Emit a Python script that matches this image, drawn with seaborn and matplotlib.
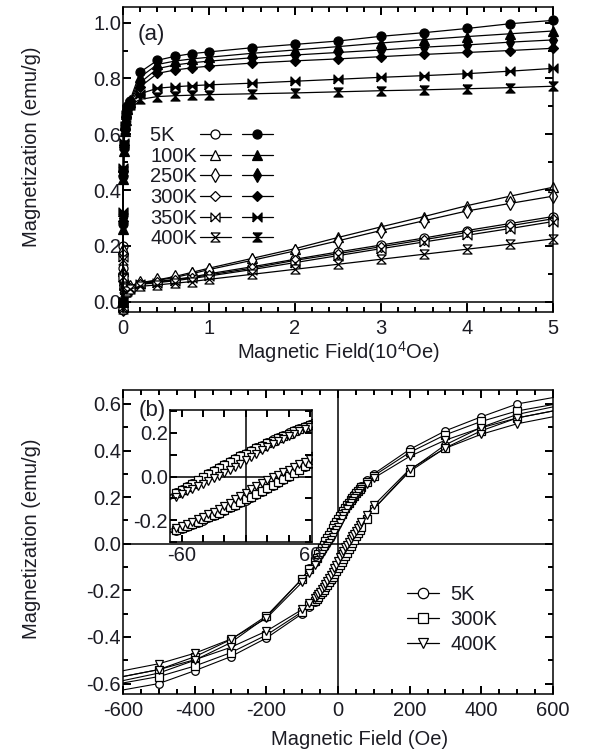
"""Magnetization vs field at several temperatures, and low-field hysteresis loops."""

import matplotlib

matplotlib.use("Agg")
import matplotlib.pyplot as plt
import seaborn as sns
from matplotlib.legend_handler import HandlerTuple
from matplotlib.lines import Line2D
from matplotlib.ticker import FixedLocator, MultipleLocator, NullLocator

# ---- panel (a): M(H) up to 5x10^4 Oe, open = sample 1, filled = sample 2 ----
TEMPS_A = ["5K", "100K", "250K", "300K", "350K", "400K"]

FIELD_A = [0.0, 0.0, 0.005, 0.01, 0.02, 0.03, 0.05, 0.08,
           0.2, 0.4, 0.6, 0.8, 1.0, 1.5, 2.0, 2.5, 3.0, 3.5, 4.0, 4.5, 5.0]

M_OPEN_5K = [-0.03, 0.20, 0.12, 0.07, 0.045, 0.04, 0.045, 0.05,
             0.065, 0.072, 0.080, 0.088, 0.100, 0.125, 0.152, 0.178, 0.203, 0.228, 0.255, 0.280, 0.305]
M_OPEN_100K = [-0.02, 0.19, 0.11, 0.065, 0.045, 0.04, 0.047, 0.055,
               0.068, 0.078, 0.090, 0.105, 0.120, 0.155, 0.190, 0.230, 0.268, 0.305, 0.344, 0.378, 0.410]
M_OPEN_250K = [-0.025, 0.18, 0.10, 0.06, 0.04, 0.04, 0.045, 0.052,
               0.067, 0.076, 0.087, 0.100, 0.115, 0.148, 0.182, 0.218, 0.255, 0.290, 0.325, 0.352, 0.378]
M_OPEN_300K = [-0.03, 0.17, 0.10, 0.06, 0.04, 0.038, 0.043, 0.05,
               0.063, 0.070, 0.078, 0.086, 0.096, 0.120, 0.148, 0.172, 0.197, 0.222, 0.248, 0.272, 0.297]
M_OPEN_350K = [-0.02, 0.16, 0.09, 0.055, 0.04, 0.037, 0.042, 0.048,
               0.062, 0.068, 0.075, 0.083, 0.092, 0.115, 0.140, 0.165, 0.190, 0.214, 0.238, 0.262, 0.287]
M_OPEN_400K = [-0.025, 0.15, 0.09, 0.05, 0.035, 0.033, 0.038, 0.045,
               0.055, 0.060, 0.066, 0.072, 0.080, 0.098, 0.116, 0.134, 0.152, 0.170, 0.188, 0.206, 0.225]

M_FILLED_5K = [0.0, 0.28, 0.45, 0.55, 0.62, 0.66, 0.70, 0.72,
               0.823, 0.865, 0.879, 0.889, 0.895, 0.910, 0.922, 0.934, 0.951, 0.964, 0.979, 0.996, 1.008]
M_FILLED_100K = [0.0, 0.26, 0.44, 0.54, 0.61, 0.65, 0.69, 0.715,
                 0.805, 0.850, 0.862, 0.870, 0.876, 0.890, 0.902, 0.914, 0.927, 0.939, 0.950, 0.960, 0.970]
M_FILLED_250K = [0.0, 0.30, 0.46, 0.55, 0.62, 0.66, 0.695, 0.715,
                 0.785, 0.835, 0.848, 0.856, 0.862, 0.874, 0.884, 0.893, 0.902, 0.912, 0.920, 0.930, 0.938]
M_FILLED_300K = [0.0, 0.29, 0.47, 0.56, 0.62, 0.66, 0.69, 0.71,
                 0.770, 0.818, 0.830, 0.838, 0.844, 0.855, 0.863, 0.870, 0.878, 0.886, 0.893, 0.900, 0.908]
M_FILLED_350K = [0.0, 0.32, 0.48, 0.57, 0.63, 0.67, 0.69, 0.71,
                 0.745, 0.765, 0.770, 0.774, 0.777, 0.783, 0.790, 0.797, 0.804, 0.810, 0.817, 0.826, 0.836]
M_FILLED_400K = [0.0, 0.30, 0.47, 0.56, 0.62, 0.66, 0.69, 0.705,
                 0.725, 0.735, 0.738, 0.740, 0.742, 0.745, 0.748, 0.752, 0.756, 0.759, 0.763, 0.767, 0.772]

# ---- panel (b): hysteresis loops, field sweep down then up (Oe) ----
TEMPS_B = ["5K", "300K", "400K"]

H_DESC = [700, 500, 400, 300, 200, 100, 80,
          65, 60, 55, 50, 45, 40, 35, 30, 25, 20, 15, 10, 5, 0,
          -5, -10, -15, -20, -25, -30, -35, -40, -45, -50, -55, -60, -65,
          -80, -100, -200, -300, -400, -500, -700]
H_ASC = [-700, -500, -400, -300, -200, -100, -80,
         -65, -60, -55, -50, -45, -40, -35, -30, -25, -20, -15, -10, -5, 0,
         5, 10, 15, 20, 25, 30, 35, 40, 45, 50, 55, 60, 65,
         80, 100, 200, 300, 400, 500, 700]

M_DESC_5K = [0.655, 0.600, 0.545, 0.485, 0.405, 0.300, 0.272,
             0.250, 0.241, 0.232, 0.222, 0.212, 0.202, 0.192, 0.181, 0.170, 0.158, 0.146, 0.134, 0.122, 0.110,
             0.097, 0.084, 0.070, 0.056, 0.042, 0.028, 0.014, 0.000, -0.014, -0.028, -0.042, -0.056, -0.070,
             -0.105, -0.150, -0.315, -0.425, -0.500, -0.555, -0.620]
M_ASC_5K = [-0.655, -0.600, -0.545, -0.485, -0.405, -0.300, -0.272,
            -0.250, -0.241, -0.232, -0.222, -0.212, -0.202, -0.192, -0.181, -0.170, -0.158, -0.146, -0.134, -0.122, -0.110,
            -0.097, -0.084, -0.070, -0.056, -0.042, -0.028, -0.014, 0.000, 0.014, 0.028, 0.042, 0.056, 0.070,
            0.105, 0.150, 0.315, 0.425, 0.500, 0.555, 0.620]

M_DESC_300K = [0.625, 0.570, 0.525, 0.468, 0.392, 0.292, 0.265,
               0.244, 0.236, 0.227, 0.217, 0.207, 0.197, 0.187, 0.176, 0.165, 0.153, 0.141, 0.129, 0.117, 0.105,
               0.092, 0.079, 0.066, 0.052, 0.038, 0.024, 0.010, -0.004, -0.018, -0.032, -0.046, -0.060, -0.074,
               -0.108, -0.150, -0.310, -0.412, -0.485, -0.540, -0.600]
M_ASC_300K = [-0.625, -0.570, -0.525, -0.468, -0.392, -0.292, -0.265,
              -0.244, -0.236, -0.227, -0.217, -0.207, -0.197, -0.187, -0.176, -0.165, -0.153, -0.141, -0.129, -0.117, -0.105,
              -0.092, -0.079, -0.066, -0.052, -0.038, -0.024, -0.010, 0.004, 0.018, 0.032, 0.046, 0.060, 0.074,
              0.108, 0.150, 0.310, 0.412, 0.485, 0.540, 0.600]

M_DESC_400K = [0.600, 0.540, 0.498, 0.445, 0.375, 0.282, 0.255,
               0.234, 0.226, 0.217, 0.207, 0.196, 0.185, 0.173, 0.161, 0.148, 0.134, 0.120, 0.105, 0.090, 0.074,
               0.058, 0.045, 0.030, 0.016, 0.004, -0.008, -0.020, -0.032, -0.044, -0.056, -0.068, -0.080, -0.092,
               -0.125, -0.165, -0.320, -0.410, -0.470, -0.515, -0.575]
M_ASC_400K = [-0.600, -0.540, -0.498, -0.445, -0.375, -0.282, -0.255,
              -0.234, -0.226, -0.217, -0.207, -0.196, -0.185, -0.173, -0.161, -0.148, -0.134, -0.120, -0.105, -0.090, -0.074,
              -0.058, -0.045, -0.030, -0.016, -0.004, 0.008, 0.020, 0.032, 0.044, 0.056, 0.068, 0.080, 0.092,
              0.125, 0.165, 0.320, 0.410, 0.470, 0.515, 0.575]

INK = "#1c1c24"
FS = 14.5

BOWTIE = [(-1, -1), (-1, 1), (1, -1), (1, 1), (-1, -1)]
HOURGLASS = [(-1, 1), (1, 1), (-1, -1), (1, -1), (-1, 1)]

MARKERS_A = ["o", "^", "d", "D", BOWTIE, HOURGLASS]
SIZES_A = [6.5, 7.0, 7.0, 5.5, 6.5, 6.5]
MARKERS_B = ["o", "s", "v"]


def draw(ax, x, y, marker, size, face, clip=True, lw=0.9):
    sns.lineplot(x=x, y=y, ax=ax, sort=False, estimator=None, errorbar=None,
                 color="black", linewidth=lw, marker=marker, markersize=size,
                 markerfacecolor=face, markeredgecolor="black", markeredgewidth=0.9,
                 clip_on=clip)


def style_axes(ax, major=6.0, minor=3.5):
    for side in ax.spines.values():
        side.set_linewidth(1.1)
        side.set_color("black")
    ax.tick_params(which="both", direction="in", top=True, right=True,
                   bottom=True, left=True, color="black", width=1.3,
                   labelcolor=INK, labelsize=FS)
    ax.tick_params(which="major", length=major)
    ax.tick_params(which="minor", length=minor)
    ax.tick_params(axis="y", which="both", pad=1.5)
    ax.tick_params(axis="x", which="both", pad=5)


def inward_ticks(ax, major_px=8.3, minor_px=4.9):
    # inward tick strokes on all four sides, at the locator positions
    fig_w, fig_h = ax.figure.get_size_inches() * ax.figure.dpi
    box = ax.get_position()
    w_px, h_px = box.width * fig_w, box.height * fig_h
    x0, x1 = ax.get_xlim()
    y0, y1 = ax.get_ylim()
    kw = dict(colors="black", linewidth=1.3, clip_on=False, zorder=6)
    for locs, size in ((ax.xaxis.get_majorticklocs(), major_px), (ax.xaxis.get_minorticklocs(), minor_px)):
        locs = [v for v in locs if x0 <= v <= x1]
        if locs:
            f = size / h_px
            ax.vlines(locs, 0, f, transform=ax.get_xaxis_transform(), **kw)
            ax.vlines(locs, 1 - f, 1, transform=ax.get_xaxis_transform(), **kw)
    for locs, size in ((ax.yaxis.get_majorticklocs(), major_px), (ax.yaxis.get_minorticklocs(), minor_px)):
        locs = [v for v in locs if y0 <= v <= y1]
        if locs:
            f = size / w_px
            ax.hlines(locs, 0, f, transform=ax.get_yaxis_transform(), **kw)
            ax.hlines(locs, 1 - f, 1, transform=ax.get_yaxis_transform(), **kw)
    ax.set_xlim(x0, x1)
    ax.set_ylim(y0, y1)


sns.set_theme(style="ticks")
plt.rcParams["font.family"] = ["Liberation Sans", "DejaVu Sans"]
plt.rcParams["mathtext.fontset"] = "custom"
plt.rcParams["mathtext.rm"] = "Liberation Sans"
plt.rcParams["axes.unicode_minus"] = False

fig = plt.figure(figsize=(6.13, 7.52), dpi=100)
fig.patch.set_facecolor("white")

# ---------------- panel (a) ----------------
ax_a = fig.add_axes([0.2007, 0.5855, 0.7014, 0.4052])
opens = [M_OPEN_5K, M_OPEN_100K, M_OPEN_250K, M_OPEN_300K, M_OPEN_350K, M_OPEN_400K]
filled = [M_FILLED_5K, M_FILLED_100K, M_FILLED_250K, M_FILLED_300K, M_FILLED_350K, M_FILLED_400K]
ax_a.axhline(0, color="black", linewidth=1.1, zorder=1)
for m_open, mk, ms in zip(opens, MARKERS_A, SIZES_A):
    draw(ax_a, FIELD_A, m_open, mk, ms, "white", clip=False)
for m_fill, mk, ms in zip(filled, MARKERS_A, SIZES_A):
    draw(ax_a, FIELD_A, m_fill, mk, ms, "black", clip=False)

ax_a.set_xlim(0, 5)
ax_a.set_ylim(-0.036, 1.056)
ax_a.xaxis.set_major_locator(MultipleLocator(1))
ax_a.xaxis.set_minor_locator(MultipleLocator(0.2))
ax_a.yaxis.set_major_locator(MultipleLocator(0.2))
ax_a.yaxis.set_minor_locator(MultipleLocator(0.1))
style_axes(ax_a)
ax_a.set_xlabel(r"Magnetic Field(10$^{4}$Oe)", fontsize=FS, color=INK, va="center")
ax_a.xaxis.set_label_coords(0.5, -0.131)
ax_a.set_ylabel("Magnetization (emu/g)", fontsize=FS, color=INK, va="center")
ax_a.yaxis.set_label_coords(-0.212, 0.54)
ax_a.text(0.065, 0.911, "(a)", transform=ax_a.transAxes, fontsize=16,
          color=INK, ha="center", va="center")

handles_a = []
for mk, ms in zip(MARKERS_A, SIZES_A):
    h_open = Line2D([], [], color="black", lw=0.9, marker=mk, ms=ms,
                    mfc="white", mec="black", mew=0.9)
    h_fill = Line2D([], [], color="black", lw=0.9, marker=mk, ms=ms,
                    mfc="black", mec="black", mew=0.9)
    handles_a.append((h_open, h_fill))
labels_a = [t if len(t) == 4 else t + "    " for t in TEMPS_A]
leg_a = ax_a.legend(handles_a, labels_a, handler_map={tuple: HandlerTuple(ndivide=None, pad=0.55)},
                    loc="upper left", bbox_to_anchor=(0.063, 0.609), frameon=False,
                    markerfirst=False, handlelength=3.6, handletextpad=0.15,
                    labelspacing=0.08, borderpad=0, borderaxespad=0, fontsize=FS)
for t in leg_a.get_texts():
    t.set_color(INK)

# ---------------- panel (b) ----------------
ax_b = fig.add_axes([0.2007, 0.0771, 0.7014, 0.4043])
desc = [M_DESC_5K, M_DESC_300K, M_DESC_400K]
asc = [M_ASC_5K, M_ASC_300K, M_ASC_400K]
ax_b.axhline(0, color="black", linewidth=1.1, zorder=1)
ax_b.axvline(0, color="black", linewidth=1.1, zorder=1)
for m_d, m_a, mk in zip(desc, asc, MARKERS_B):
    draw(ax_b, H_DESC + H_ASC, m_d + m_a, mk, 5.5, "white", lw=0.8)

ax_b.set_xlim(-600, 600)
ax_b.set_ylim(-0.645, 0.66)
ax_b.xaxis.set_major_locator(MultipleLocator(200))
ax_b.xaxis.set_minor_locator(MultipleLocator(50))
ax_b.yaxis.set_major_locator(MultipleLocator(0.2))
ax_b.yaxis.set_minor_locator(MultipleLocator(0.1))
style_axes(ax_b)
ax_b.set_xlabel("Magnetic Field (Oe)", fontsize=FS, color=INK, va="center")
ax_b.xaxis.set_label_coords(0.55, -0.151)
ax_b.set_ylabel("Magnetization (emu/g)", fontsize=FS, color=INK, va="center")
ax_b.yaxis.set_label_coords(-0.212, 0.51)
ax_b.text(0.067, 0.931, "(b)", transform=ax_b.transAxes, fontsize=16,
          color=INK, ha="center", va="center")

handles_b = [Line2D([], [], color="black", lw=0.9, marker=mk, ms=7.5,
                    mfc="white", mec="black", mew=0.9) for mk in MARKERS_B]
leg_b = ax_b.legend(handles_b, TEMPS_B, loc="upper left", bbox_to_anchor=(0.66, 0.36),
                    frameon=False, handlelength=1.6, handletextpad=0.55,
                    labelspacing=0.3, borderpad=0, borderaxespad=0, fontsize=FS)
for t in leg_b.get_texts():
    t.set_color(INK)

# inset: zoom on the low-field part of the loops
ax_in = fig.add_axes([0.2773, 0.2793, 0.2317, 0.1755])
ax_in.set_facecolor("white")
ax_in.axhline(0, color="black", linewidth=1.1, zorder=1)
ax_in.axvline(0, color="black", linewidth=1.1, zorder=1)
for m_d, m_a, mk in zip(desc, asc, MARKERS_B):
    draw(ax_in, H_DESC + H_ASC, m_d + m_a, mk, 5.5, "white", lw=0.8)
ax_in.set_xlim(-71, 62)
ax_in.set_ylim(-0.3, 0.305)
ax_in.xaxis.set_major_locator(FixedLocator([-60, -40, -20, 0, 20, 40, 60]))
ax_in.xaxis.set_minor_locator(NullLocator())
ax_in.set_xticklabels(["-60", "", "", "", "", "", "60"])
ax_in.yaxis.set_major_locator(MultipleLocator(0.2))
ax_in.yaxis.set_minor_locator(MultipleLocator(0.1))
style_axes(ax_in, major=5.0, minor=5.0)
ax_in.tick_params(axis="x", pad=3)
ax_in.set_xlabel("")
ax_in.set_ylabel("")

inward_ticks(ax_a)
inward_ticks(ax_b)
inward_ticks(ax_in, major_px=7.0, minor_px=7.0)

fig.savefig("out.png", dpi=100)
